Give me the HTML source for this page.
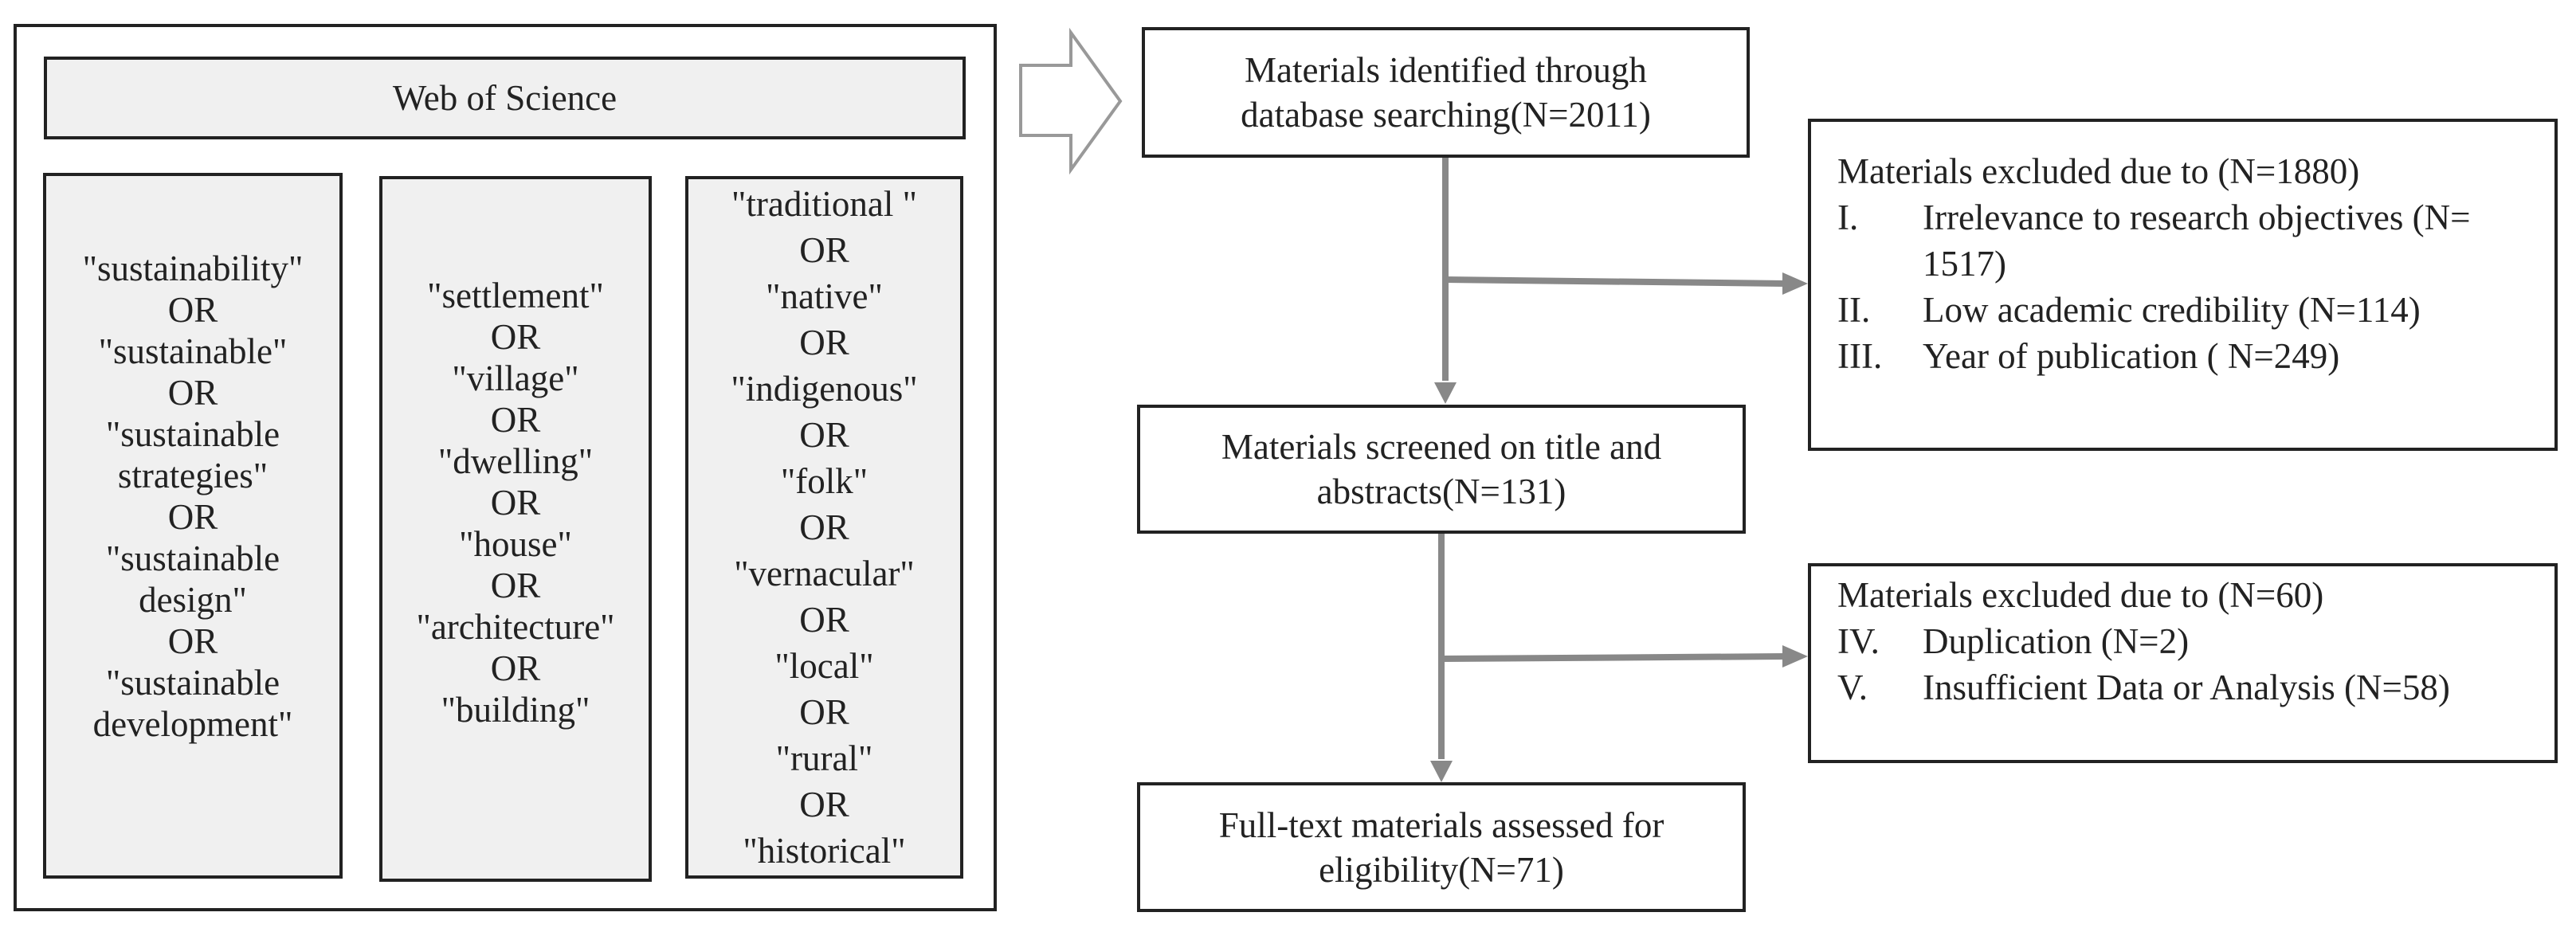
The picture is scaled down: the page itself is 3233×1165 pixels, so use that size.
<!DOCTYPE html>
<html><head><meta charset="utf-8"><style>
body{margin:0;width:3233px;height:1165px;background:#fff;position:relative;overflow:hidden;font-family:"Liberation Serif",serif;color:#222}
.b{position:absolute;border:4px solid #222;box-sizing:border-box}
.g{background:#f0f0f0}
.c{display:flex;flex-direction:column;justify-content:center;align-items:center;text-align:center;font-size:45px;line-height:58px}
.t{position:absolute;font-size:45px;line-height:58px;white-space:nowrap}
</style></head><body>
<div class="b" style="left:17px;top:30px;width:1234px;height:1114px"></div>
<div class="b g c" style="left:55px;top:71px;width:1157px;height:104px">Web of Science</div>
<div class="b g c" style="left:54px;top:217px;width:376px;height:886px;padding-bottom:74px;line-height:52px">"sustainability"<br>OR<br>"sustainable"<br>OR<br>"sustainable<br>strategies"<br>OR<br>"sustainable<br>design"<br>OR<br>"sustainable<br>development"</div>
<div class="b g c" style="left:476px;top:221px;width:342px;height:886px;padding-bottom:66px;line-height:52px">"settlement"<br>OR<br>"village"<br>OR<br>"dwelling"<br>OR<br>"house"<br>OR<br>"architecture"<br>OR<br>"building"</div>
<div class="b g" style="left:860px;top:221px;width:349px;height:882px;line-height:58px;padding-top:2px;text-align:center;font-size:45px">"traditional "<br>OR<br>"native"<br>OR<br>"indigenous"<br>OR<br>"folk"<br>OR<br>"vernacular"<br>OR<br>"local"<br>OR<br>"rural"<br>OR<br>"historical"</div>
<svg style="position:absolute;left:0;top:0" width="3233" height="1165">
<polygon points="1281,82 1344,82 1344,41 1406,127 1344,213 1344,170 1281,170" fill="#fff" stroke="#999" stroke-width="4"/>
<g stroke="#888" stroke-width="8" fill="#888">
<line x1="1814" y1="198" x2="1814" y2="478"/>
<polygon points="1800,480 1828,480 1814,507" stroke="none"/>
<line x1="1814" y1="351" x2="2240" y2="356"/>
<polygon points="2237,342 2269,356 2237,370" stroke="none"/>
<line x1="1809" y1="670" x2="1809" y2="953"/>
<polygon points="1795,955 1823,955 1809,982" stroke="none"/>
<line x1="1809" y1="827" x2="2240" y2="824"/>
<polygon points="2237,810 2269,824 2237,838" stroke="none"/>
</g></svg>
<div class="b c" style="left:1433px;top:34px;width:763px;height:164px;line-height:56px">Materials identified through<br>database searching(N=2011)</div>
<div class="b c" style="left:1427px;top:508px;width:764px;height:162px;line-height:56px">Materials screened on title and<br>abstracts(N=131)</div>
<div class="b c" style="left:1427px;top:982px;width:764px;height:163px;line-height:56px">Full-text materials assessed for<br>eligibility(N=71)</div>
<div class="b" style="left:2269px;top:149px;width:941px;height:417px"></div>
<div class="t" style="left:2306px;top:186px">Materials excluded due to (N=1880)</div>
<div class="t" style="left:2306px;top:244px">I.</div><div class="t" style="left:2413px;top:244px">Irrelevance to research objectives (N=</div>
<div class="t" style="left:2413px;top:302px">1517)</div>
<div class="t" style="left:2306px;top:360px">II.</div><div class="t" style="left:2413px;top:360px">Low academic credibility (N=114)</div>
<div class="t" style="left:2306px;top:418px">III.</div><div class="t" style="left:2413px;top:418px">Year of publication ( N=249)</div>
<div class="b" style="left:2269px;top:707px;width:941px;height:251px"></div>
<div class="t" style="left:2306px;top:718px">Materials excluded due to (N=60)</div>
<div class="t" style="left:2306px;top:776px">IV.</div><div class="t" style="left:2413px;top:776px">Duplication (N=2)</div>
<div class="t" style="left:2306px;top:834px">V.</div><div class="t" style="left:2413px;top:834px">Insufficient Data or Analysis (N=58)</div>
</body></html>
